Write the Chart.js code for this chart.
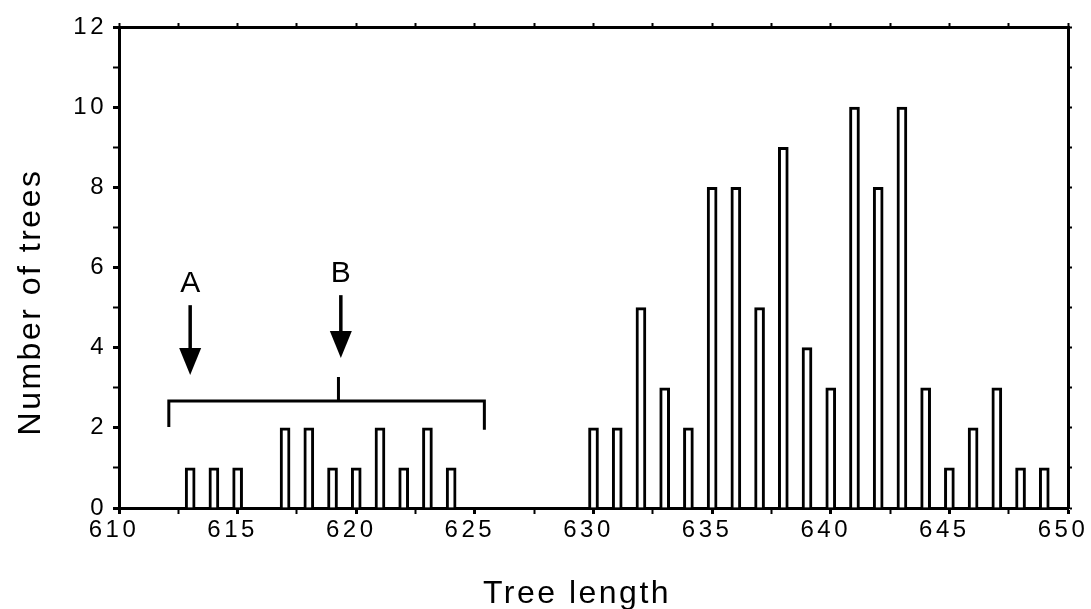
<!DOCTYPE html>
<html>
<head>
<meta charset="utf-8">
<script src="https://cdn.jsdelivr.net/npm/chart.js@4"></script>
<style>
  body { margin: 0; background: #fff; }
  canvas { display: block; }
</style>
</head>
<body>
<canvas id="treeCanvas" width="1091" height="609"></canvas>
<script>
// Distribution of tree lengths

// Tree length (x) and number of trees with that length (y)
const lengths = [613, 614, 615, 617, 618, 619, 620, 621, 622, 623, 624,
                 630, 631, 632, 633, 634, 635, 636, 637, 638, 639, 640,
                 641, 642, 643, 644, 645, 646, 647, 648, 649];
const counts  = [1, 1, 1, 2, 2, 1, 1, 2, 1, 2, 1,
                 2, 2, 5, 3, 2, 8, 8, 5, 9, 4, 3,
                 10, 8, 10, 3, 1, 2, 3, 1, 1];

const xTickLabels = [610, 615, 620, 625, 630, 635, 640, 645, 650];
const yTickLabels = [0, 2, 4, 6, 8, 10, 12];

const xTitle = 'Tree length';
const yTitle = 'Number of trees';

// Arrows A and B and the bracket, in data units
const arrows = [
  { label: 'A', x: 613.0, from: 5.06, to: 3.32, labelY: 5.39 },
  { label: 'B', x: 619.35, from: 5.31, to: 3.74, labelY: 5.64 }
];
const bracket = { from: 612.1, to: 625.4, y: 2.67, leftEnd: 2.02, rightEnd: 1.95, mid: 619.25, midTop: 3.27 };

const points = lengths.map((l, i) => ({ x: l, y: counts[i] }));

// draws the arrows, bracket and axis titles
const annotate = {
  id: 'annotate',
  beforeDraw(chart) {
    chart.ctx.letterSpacing = '3.5px';
  },
  afterDraw(chart) {
    const ctx = chart.ctx;
    const x = chart.scales.x;
    const y = chart.scales.y;
    ctx.save();
    ctx.letterSpacing = '0px';
    ctx.strokeStyle = '#000';
    ctx.fillStyle = '#000';
    ctx.lineWidth = 3.5;

    arrows.forEach(a => {
      const px = x.getPixelForValue(a.x);
      const top = y.getPixelForValue(a.from);
      const tip = y.getPixelForValue(a.to);
      ctx.beginPath();
      ctx.moveTo(px, top);
      ctx.lineTo(px, tip - 20);
      ctx.stroke();
      ctx.beginPath();
      ctx.moveTo(px - 11, tip - 27);
      ctx.lineTo(px + 11, tip - 27);
      ctx.lineTo(px, tip);
      ctx.closePath();
      ctx.fill();
      ctx.font = '30px "Liberation Sans", Arial, sans-serif';
      ctx.textAlign = 'center';
      ctx.textBaseline = 'alphabetic';
      ctx.fillText(a.label, px, y.getPixelForValue(a.labelY));
    });

    ctx.lineWidth = 3;
    const bx1 = x.getPixelForValue(bracket.from);
    const bx2 = x.getPixelForValue(bracket.to);
    const by = y.getPixelForValue(bracket.y);
    ctx.beginPath();
    ctx.moveTo(bx1, y.getPixelForValue(bracket.leftEnd));
    ctx.lineTo(bx1, by);
    ctx.lineTo(bx2, by);
    ctx.lineTo(bx2, y.getPixelForValue(bracket.rightEnd));
    ctx.moveTo(x.getPixelForValue(bracket.mid), by);
    ctx.lineTo(x.getPixelForValue(bracket.mid), y.getPixelForValue(bracket.midTop));
    ctx.stroke();

    // axis titles
    ctx.letterSpacing = '2.5px';
    ctx.font = '32px "Liberation Sans", Arial, sans-serif';
    ctx.textAlign = 'center';
    ctx.textBaseline = 'alphabetic';
    ctx.fillText(xTitle, 577, 603);
    ctx.translate(40, 302);
    ctx.rotate(-Math.PI / 2);
    ctx.fillText(yTitle, 0, 0);
    ctx.restore();
  }
};

const tickFont = { family: '"Liberation Sans", Arial, sans-serif', size: 24 };

const treeCtx = document.getElementById('treeCanvas').getContext('2d');
const treeChart = new Chart(treeCtx, {
  type: 'bar',
  data: {
    datasets: [{
      label: 'Number of trees',
      data: points,
      backgroundColor: '#fff',
      borderColor: '#000',
      borderWidth: 3,
      barThickness: 10,
      borderSkipped: 'start'
    }]
  },
  options: {
    responsive: false,
    animation: false,
    plugins: { legend: { display: false }, tooltip: { enabled: false } },
    layout: { padding: 0 },
    scales: {
      x: {
        type: 'linear',
        position: 'bottom',
        min: 610, max: 650,
        offset: false,
        grid: { drawOnChartArea: false, offset: false, tickLength: 6, tickColor: '#000',
                tickWidth: c => xTickLabels.includes(c.tick.value) ? 3 : 2 },
        border: { color: '#000', width: 3 },
        ticks: {
          stepSize: 2.5, autoSkip: false, maxRotation: 0, padding: 2, labelOffset: -5,
          color: '#000', font: tickFont,
          callback: v => xTickLabels.includes(v) ? String(v) : ''
        },
        afterFit: s => { s.height = 101; }
      },
      x2: {
        type: 'linear',
        position: 'top',
        min: 610, max: 650,
        offset: false,
        grid: { drawOnChartArea: false, offset: false, tickLength: 4, tickColor: '#000', tickWidth: 2 },
        border: { color: '#000', width: 3 },
        ticks: { stepSize: 2.5, display: false },
        afterFit: s => { s.height = 27; }
      },
      y: {
        position: 'left',
        min: 0, max: 12,
        grid: { drawOnChartArea: false, tickLength: 6, tickColor: '#000',
                tickWidth: c => yTickLabels.includes(c.tick.value) ? 3 : 2 },
        border: { color: '#000', width: 3 },
        ticks: {
          stepSize: 1, autoSkip: false, padding: 6,
          color: '#000', font: tickFont,
          callback: v => yTickLabels.includes(v) ? String(v) : ''
        },
        afterFit: s => { s.width = 119; }
      },
      y2: {
        position: 'right',
        min: 0, max: 12,
        grid: { drawOnChartArea: false, tickLength: 4, tickColor: '#000', tickWidth: 2 },
        border: { color: '#000', width: 3 },
        ticks: { stepSize: 1, display: false },
        afterFit: s => { s.width = 23; }
      }
    }
  },
  plugins: [annotate]
});
</script>
</body>
</html>
